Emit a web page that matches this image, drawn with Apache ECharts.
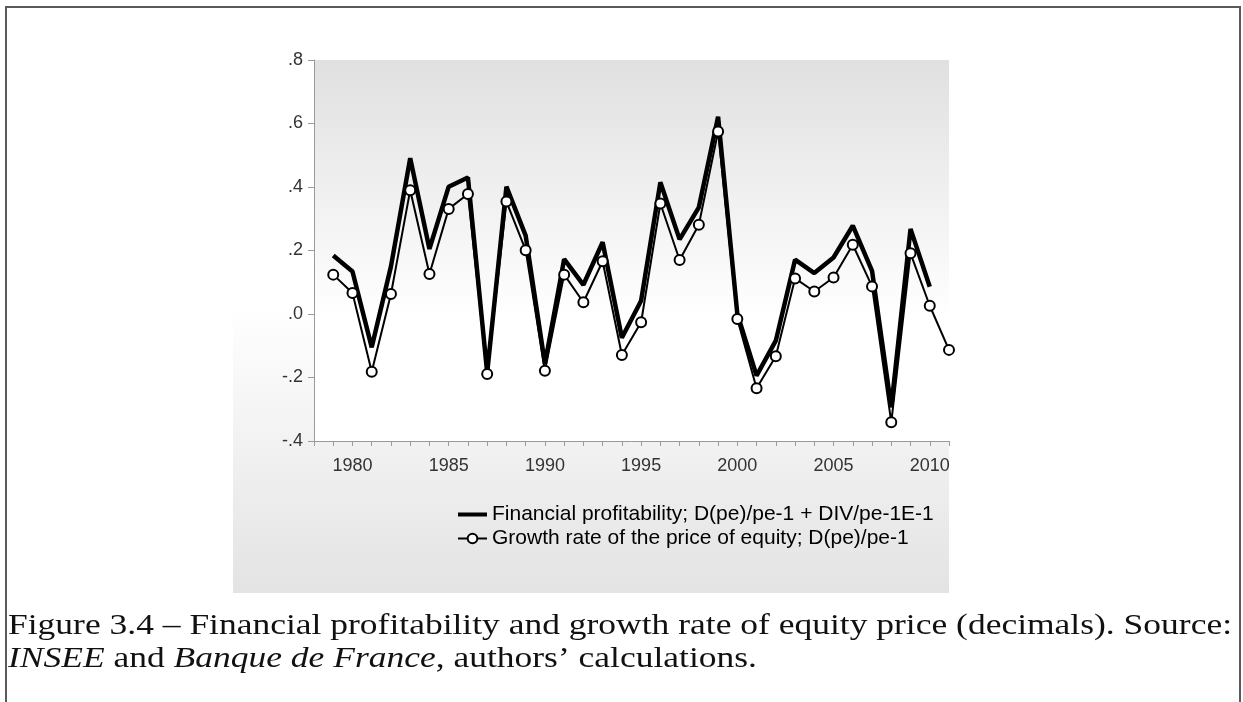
<!DOCTYPE html>
<html>
<head>
<meta charset="utf-8">
<script src="https://cdn.jsdelivr.net/npm/echarts@6/dist/echarts.min.js"></script>
<style>
html,body{margin:0;padding:0;background:#fff;}
#chart{width:1243px;height:702px;}
</style>
</head>
<body>
<div id="chart"></div>
<script>
// ---- data ----
const years = [1979,1980,1981,1982,1983,1984,1985,1986,1987,1988,1989,1990,1991,1992,1993,1994,1995,1996,1997,1998,1999,2000,2001,2002,2003,2004,2005,2006,2007,2008,2009,2010,2011];
const profitability = [0.184,0.134,-0.105,0.15,0.491,0.205,0.401,0.43,-0.185,0.401,0.247,-0.157,0.173,0.092,0.226,-0.075,0.042,0.415,0.235,0.336,0.621,0.0,-0.194,-0.084,0.171,0.129,0.178,0.278,0.136,-0.294,0.268,0.086,null];
const growth = [0.124,0.066,-0.182,0.063,0.39,0.126,0.331,0.378,-0.189,0.354,0.201,-0.179,0.124,0.037,0.166,-0.129,-0.026,0.348,0.17,0.281,0.575,-0.016,-0.234,-0.133,0.112,0.071,0.115,0.218,0.087,-0.341,0.191,0.026,-0.113];
const seriesNames = ['Financial profitability; D(pe)/pe-1 + DIV/pe-1E-1','Growth rate of the price of equity; D(pe)/pe-1'];
const yTicks = [-0.4,-0.2,0.0,0.2,0.4,0.6,0.8];
const captionLine1 = 'Figure 3.4 \u2013 Financial profitability and growth rate of equity price (decimals). Source:';
const captionLine2Parts = [['i','INSEE'],['n',' and '],['i','Banque de France'],['n',', authors\u2019 calculations.']];

// ---- caption fit ----
const capFont = 'Liberation Serif';
const capSize = 29;
const mc = document.createElement('canvas').getContext('2d');
mc.font = capSize + 'px "' + capFont + '"';
const w1 = mc.measureText(captionLine1).width;
const capScale = 1224 / w1;

const chart = echarts.init(document.getElementById('chart'), null, {renderer:'canvas'});
const fmtY = v => {
  const r = Math.round(v*10)/10;
  let s = r.toFixed(1);
  if (s === '-0.0') s = '0.0';
  return s.replace(/^(-?)0\./, '$1.');
};
const axisGray = '#9a9a9a';
const sansFont = 'Liberation Sans, Arial, sans-serif';
const option = {
  animation:false,
  backgroundColor:'#ffffff',
  graphic:[
    {type:'rect', z:-10, shape:{x:6,y:7,width:1234,height:760}, style:{fill:'#fff',stroke:'#5a5a5a',lineWidth:2}},
    {type:'rect', z:-9, shape:{x:233,y:20,width:716,height:573},
      style:{fill:new echarts.graphic.LinearGradient(0,0,0,1,[{offset:0,color:'#ffffff'},{offset:0.5,color:'#ffffff'},{offset:1,color:'#e3e3e3'}])}},
    {type:'text', left:8, top:612, scaleX:capScale, originX:8,
      style:{text:captionLine1, font:capSize+'px "'+capFont+'"', fill:'#111'}},
    {type:'text', left:8, top:645, scaleX:capScale, originX:8,
      style:{text:captionLine2Parts.map(p=>'{'+p[0]+'|'+p[1]+'}').join(''),
        rich:{i:{fontFamily:capFont,fontSize:capSize,fontStyle:'italic',fill:'#111',color:'#111'},
              n:{fontFamily:capFont,fontSize:capSize,fill:'#111',color:'#111'}}}}
  ],
  grid:{left:314, top:60, width:635, height:381, show:true, borderWidth:0,
    backgroundColor:new echarts.graphic.LinearGradient(0,0,0,1,[{offset:0,color:'#e0e0e0'},{offset:0.68,color:'#ffffff'},{offset:1,color:'#ffffff'}])},
  legend:{
    orient:'vertical', left:452, top:499, itemWidth:29, itemHeight:12, itemGap:3,
    textStyle:{fontFamily:sansFont, fontSize:21, color:'#000'},
    data:[
      {name:seriesNames[0], icon:'path://M0,0 L29,0 L29,4 L0,4 Z', itemStyle:{color:'#000'}},
      {name:seriesNames[1]}
    ]
  },
  xAxis:{
    type:'value', min:1978, max:2011, interval:1,
    axisLine:{show:true, onZero:false, lineStyle:{color:axisGray, width:1}},
    axisTick:{show:true, length:5, lineStyle:{color:axisGray}},
    splitLine:{show:false},
    axisLabel:{margin:16, fontFamily:sansFont, fontSize:18, color:'#333',
      formatter:v => (v % 5 === 0 ? String(v) : '')}
  },
  yAxis:{
    type:'value', min:yTicks[0], max:yTicks[yTicks.length-1], interval:0.2,
    axisLine:{show:true, lineStyle:{color:axisGray, width:1}},
    axisTick:{show:true, length:6, lineStyle:{color:axisGray}},
    splitLine:{show:false},
    axisLabel:{margin:11, fontFamily:sansFont, fontSize:18, color:'#333', formatter:fmtY}
  },
  series:[
    {name:seriesNames[0], type:'line', symbol:'none', z:2,
      data:years.map((y,i)=>[y, profitability[i]]),
      lineStyle:{color:'#000', width:4.5}, itemStyle:{color:'#000'}},
    {name:seriesNames[1], type:'line', symbol:'circle', symbolSize:10, z:3,
      data:years.map((y,i)=>[y, growth[i]]),
      lineStyle:{color:'#000', width:2},
      itemStyle:{color:'#fff', borderColor:'#000', borderWidth:2}}
  ]
};
chart.setOption(option);
</script>
</body>
</html>
